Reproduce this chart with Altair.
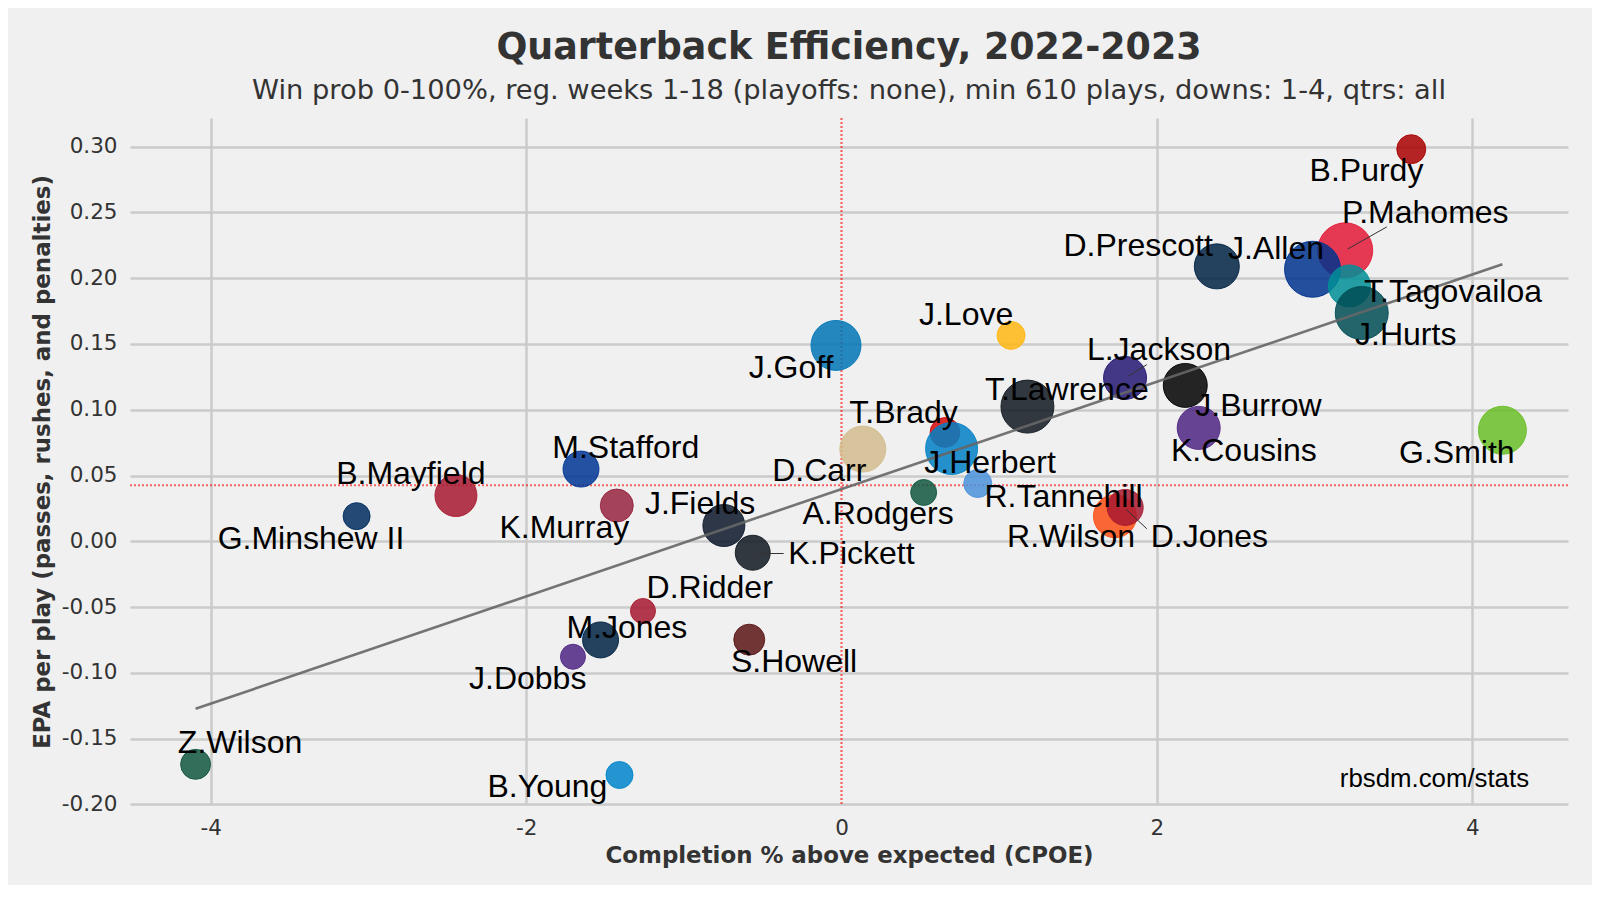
import altair as alt
import pandas as pd

# ---------------- data ----------------
players = ["B.Purdy", "D.Prescott", "P.Mahomes", "J.Allen", "T.Tagovailoa", "J.Hurts",
           "J.Love", "J.Goff", "L.Jackson", "J.Burrow", "T.Lawrence", "K.Cousins",
           "G.Smith", "T.Brady", "D.Carr", "J.Herbert", "A.Rodgers", "R.Tannehill",
           "R.Wilson", "D.Jones", "K.Murray", "B.Mayfield", "M.Stafford", "G.Minshew II",
           "J.Fields", "K.Pickett", "D.Ridder", "J.Dobbs", "M.Jones", "S.Howell",
           "Z.Wilson", "B.Young"]

cpoe = [3.613, 2.380, 3.194, 2.987, 3.221, 3.299,
        1.075, -0.035, 1.798, 2.180, 1.179, 2.265,
        4.191, 0.656, 0.135, 0.698, 0.521, 0.864,
        1.734, 1.799, -1.425, -2.445, -1.652, -3.075,
        -0.746, -0.563, -1.259, -1.703, -1.528, -0.585,
        -4.096, -1.408]

epa = [0.2981, 0.2090, 0.2212, 0.2068, 0.1941, 0.1736,
       0.1565, 0.1489, 0.1242, 0.1185, 0.1024, 0.0862,
       0.0844, 0.0827, 0.0701, 0.0705, 0.0371, 0.0439,
       0.0191, 0.0257, 0.0272, 0.0348, 0.0549, 0.0191,
       0.0120, -0.0087, -0.0530, -0.0878, -0.0750, -0.0748,
       -0.1696, -0.1777]

plays = [704, 1115, 1461, 1500, 1024, 1386,
         685, 1279, 1054, 1084, 1386, 1054,
         1211, 720, 1146, 1350, 647, 685,
         1054, 862, 790, 1024, 862, 666,
         1024, 837, 630, 630, 862, 746,
         725, 666]

team_colors = ["#AA0000", "#002244", "#E31837", "#00338D", "#008E97", "#004C54",
               "#FFB612", "#0076B6", "#241773", "#000000", "#101820", "#4F2683",
               "#69BE28", "#D50A0A", "#D3BC8D", "#0080C6", "#125740", "#4B92DB",
               "#FB4F14", "#A71930", "#97233F", "#A71930", "#003594", "#002C5F",
               "#0B162A", "#101820", "#A71930", "#4F2683", "#002244", "#5A1414",
               "#125740", "#0085CA"]

# where each name label sits (data units)
label_cpoe = [3.329, 1.881, 3.702, 2.755, 3.878, 3.578,
              0.790, -0.320, 2.013, 2.644, 1.429, 2.552,
              3.902, 0.393, -0.141, 0.942, 0.232, 1.408,
              1.456, 2.333, -1.758, -2.731, -1.368, -3.364,
              -0.897, 0.063, -0.836, -1.990, -1.361, -0.301,
              -3.814, -1.865]
label_epa = [0.2736, 0.2166, 0.2420, 0.2149, 0.1817, 0.1495,
             0.1647, 0.1242, 0.1381, 0.0951, 0.1077, 0.0614,
             0.0596, 0.0900, 0.0457, 0.0520, 0.0128, 0.0262,
             -0.0042, -0.0042, 0.0027, 0.0432, 0.0634, -0.0057,
             0.0204, -0.0176, -0.0435, -0.1121, -0.0739, -0.0996,
             -0.1612, -0.1945]

# leader lines from points to displaced labels
conn_player = ["P.Mahomes", "L.Jackson", "D.Jones", "K.Pickett"]
conn_x1 = [3.211, 1.817, 1.805, -0.532]
conn_y1 = [0.2223, 0.1254, 0.0242, -0.0093]
conn_x2 = [3.458, 1.936, 1.936, -0.367]
conn_y2 = [0.2390, 0.1343, 0.0095, -0.0093]

mean_epa = 0.0426
mean_cpoe = 0.0

x_ticks = [-4, -2, 0, 2, 4]
y_ticks = [-0.20, -0.15, -0.10, -0.05, 0.00, 0.05, 0.10, 0.15, 0.20, 0.25, 0.30]

title_text = "Quarterback Efficiency, 2022-2023"
subtitle_text = ("Win prob 0-100%, reg. weeks 1-18 (playoffs: none), min 610 plays, "
                 "downs: 1-4, qtrs: all")
watermark = ["rbsdm.com/stats"]
watermark_x = [4.36]
watermark_y = [-0.1866]

# ---------------- chart ----------------
df = pd.DataFrame({
    "player": players, "cpoe": cpoe, "epa": epa, "plays": plays,
    "color": team_colors, "lx": label_cpoe, "ly": label_epa,
})
conn_df = pd.DataFrame({"player": conn_player, "x1": conn_x1, "y1": conn_y1,
                        "x2": conn_x2, "y2": conn_y2})
wm_df = pd.DataFrame({"t": watermark, "x": watermark_x, "y": watermark_y})

W, H = 1438, 687
xs = alt.Scale(domain=[-4.512, 4.607], nice=False, zero=False)
ys = alt.Scale(domain=[-0.2005, 0.3218], nice=False, zero=False)

x_axis = alt.Axis(
    values=x_ticks,
    title="Completion % above expected (CPOE)",
    labelExpr="datum.value < 0 ? '-' + format(-datum.value, 'd') : format(datum.value, 'd')",
    gridColor={"condition": {"test": "datum.value === 0", "value": "transparent"},
               "value": "#cbcbcb"},
    labelPadding=12.5, labelFlush=False,
    titleY=57.5, titleBaseline="alphabetic",
)
y_axis = alt.Axis(
    values=y_ticks,
    title="EPA per play (passes, rushes, and penalties)",
    labelExpr="datum.value < -0.0001 ? '-' + format(-datum.value, '.2f') : format(abs(datum.value), '.2f')",
    labelPadding=13, labelFlush=False,
    titleX=-81, titleY=H / 2, titleAngle=270, titleBaseline="alphabetic",
    titleAlign="center",
)

X = lambda f: alt.X(f, type="quantitative", scale=xs, axis=x_axis)
Y = lambda f: alt.Y(f, type="quantitative", scale=ys, axis=y_axis)

hline = alt.Chart(pd.DataFrame({"epa": [mean_epa]})).mark_rule(
    color="red", strokeDash=[2, 2], strokeWidth=2, opacity=0.6
).encode(y=Y("epa"))

vline = alt.Chart(pd.DataFrame({"cpoe": [mean_cpoe]})).mark_rule(
    color="red", strokeDash=[2, 2], strokeWidth=2.2, opacity=0.6
).encode(x=X("cpoe"))

points = alt.Chart(df).mark_circle(fillOpacity=0.85, strokeWidth=1, strokeOpacity=0.9).encode(
    x=X("cpoe"),
    y=Y("epa"),
    size=alt.Size("plays:Q", scale=alt.Scale(domain=[630, 1500], range=[625, 3136]), legend=None),
    color=alt.Color("color:N", scale=None),
    stroke=alt.Stroke("color:N", scale=None),
)

reg = alt.Chart(df).transform_regression("cpoe", "epa").mark_line(
    color="#666666", strokeWidth=2.6, opacity=0.9
).encode(x=X("cpoe"), y=Y("epa"))

conn = alt.Chart(conn_df).mark_rule(color="#333333", strokeWidth=1).encode(
    x=X("x1"), y=Y("y1"), x2="x2:Q", y2="y2:Q"
)

labels = alt.Chart(df).mark_text(
    font="Liberation Sans", fontSize=32, color="black", align="center", baseline="alphabetic"
).encode(x=X("lx"), y=Y("ly"), text="player:N")

wm = alt.Chart(wm_df).mark_text(
    font="Liberation Sans", fontSize=25.8, color="black", align="right", baseline="alphabetic"
).encode(x=X("x"), y=Y("y"), text="t:N")

chart = alt.layer(hline, vline, points, reg, conn, labels, wm).properties(
    width=W, height=H,
    background="#f0f0f0",
    padding={"left": 122, "top": 110, "right": 24, "bottom": 80},
    autosize=alt.AutoSizeParams(type="none"),
    title=alt.TitleParams(
        text=title_text, subtitle=subtitle_text,
        font="DejaVu Sans", fontSize=36.4, fontWeight="bold", color="#333333",
        subtitleFont="DejaVu Sans", subtitleFontSize=27.3, subtitleColor="#333333",
        subtitlePadding=10.4, offset=13.0, anchor="middle", frame="group", baseline="top",
    ),
).configure_view(stroke=None, fill="#f0f0f0").configure_axis(
    domain=False, ticks=False, tickSize=0,
    grid=True, gridColor="#cbcbcb", gridWidth=2.5,
    labelFont="DejaVu Sans", labelFontSize=21.5, labelColor="#333333",
    titleFont="DejaVu Sans", titleFontSize=22.9, titleFontWeight="bold", titleColor="#333333",
)

chart.save("out.html", embed_options={"renderer": "svg", "actions": False})
